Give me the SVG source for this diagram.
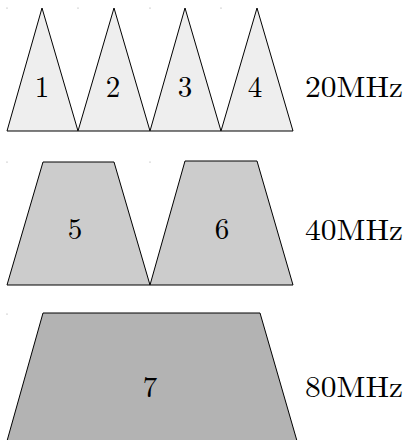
<svg xmlns="http://www.w3.org/2000/svg" width="407" height="440" viewBox="0 0 407 440">
<style>
.s{stroke:#000;stroke-width:1;stroke-linejoin:miter}
.t1{fill:#eeeeee}
.t2{fill:#cccccc}
.t3{fill:#b3b3b3}
text{font-family:"Latin Modern Roman","Liberation Serif","DejaVu Serif",serif;fill:#000}
.n{font-size:29px;text-anchor:middle}
.l{font-size:29px}
.d{fill:#999}
</style>
<rect width="407" height="440" fill="#fff"/>
<g id="dots">
<circle class="d" cx="7" cy="8" r="0.6"/><circle class="d" cx="78" cy="8" r="0.6"/><circle class="d" cx="150" cy="8" r="0.6"/><circle class="d" cx="221" cy="8" r="0.6"/>
<circle class="d" cx="7" cy="162" r="0.6"/><circle class="d" cx="150" cy="162" r="0.6"/>
<circle class="d" cx="7" cy="314" r="0.6"/>
</g>
<g id="n1"><polygon class="s t1" points="7,131 42,8 78,131"/><text class="n" x="42" y="97">1</text></g>
<g id="n2"><polygon class="s t1" points="78,131 114,8 150,131"/><text class="n" x="113" y="97">2</text></g>
<g id="n3"><polygon class="s t1" points="150,131 185,8 221,131"/><text class="n" x="185" y="97">3</text></g>
<g id="n4"><polygon class="s t1" points="221,131 257,8 293,131"/><text class="n" x="255" y="97">4</text></g>
<g id="n5"><polygon class="s t2" points="7,285 43,162 114,162 150,285"/><text class="n" x="75" y="239">5</text></g>
<g id="n6"><polygon class="s t2" points="150,285 185,161 257,161 293,285"/><text class="n" x="222" y="239">6</text></g>
<g id="n7"><polygon class="s t3" points="7,441 43,313 260,313 297,441"/><text class="n" x="150" y="397">7</text></g>
<g id="labels">
<text class="l" x="305" y="97" textLength="98" lengthAdjust="spacingAndGlyphs">20MHz</text>
<text class="l" x="305" y="240" textLength="98" lengthAdjust="spacingAndGlyphs">40MHz</text>
<text class="l" x="305" y="397" textLength="98" lengthAdjust="spacingAndGlyphs">80MHz</text>
</g>
<g id="connectors"></g>
</svg>
